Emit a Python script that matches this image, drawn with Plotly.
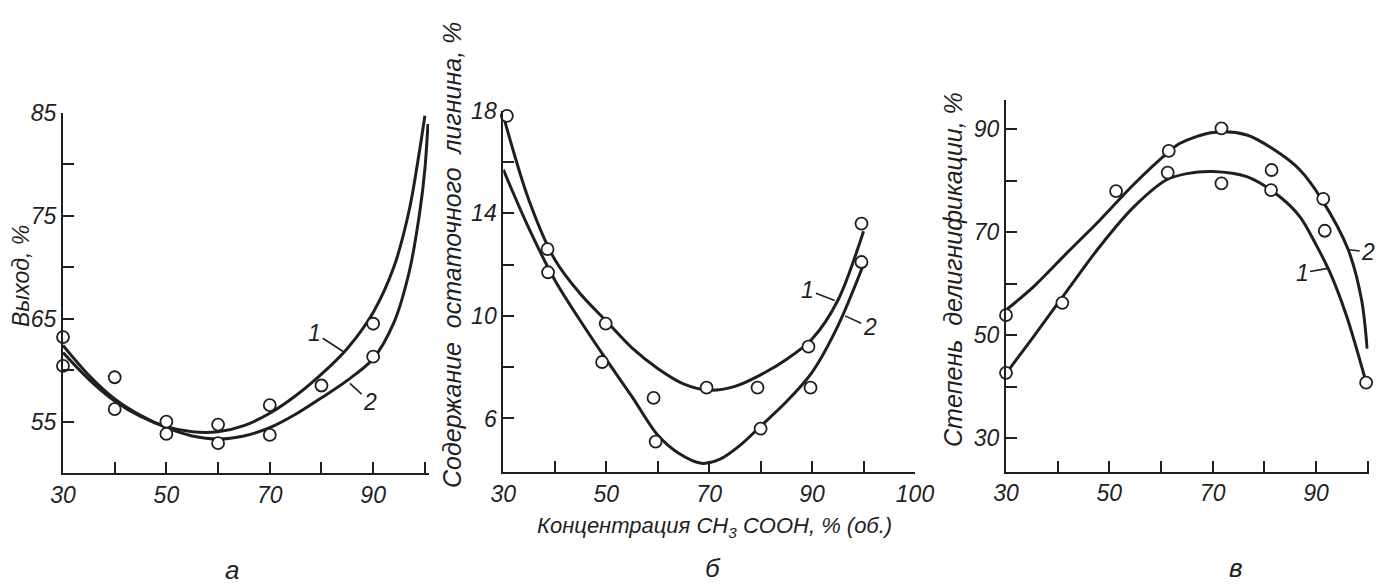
import plotly.graph_objects as go

W, H = 1387, 588

# ---------------- data ----------------
# Panel а : Выход, %
a_c1_x = [30, 35, 40, 45, 50, 55, 60, 65, 70, 75, 80, 85, 90, 94, 97, 99, 100]
a_c1_y = [61.7, 59.1, 57.0, 55.5, 54.5, 54.0, 54.0, 54.6, 55.8, 57.5, 59.6, 62.1, 65.6, 70.0, 75.6, 81.4, 84.7]
a_c2_x = [30, 35, 40, 45, 50, 55, 60, 65, 70, 75, 80, 85, 90, 94, 97, 99, 100, 100.6]
a_c2_y = [62.4, 59.5, 57.2, 55.6, 54.4, 53.6, 53.3, 53.6, 54.4, 55.7, 57.3, 59.0, 61.1, 64.6, 69.6, 75.3, 79.5, 83.9]
a_p1_x = [30, 40, 50, 60, 70, 80, 90, 100.6]
a_p1_y = [63.2, 59.3, 55.0, 54.7, 56.6, 58.5, 64.5, 85.2]
a_p2_x = [30, 40, 50, 60, 70, 90, 101.5]
a_p2_y = [60.4, 56.2, 53.8, 52.9, 53.7, 61.3, 83.9]

# Panel б : Содержание остаточного лигнина, %
b_c1_x = [30, 35, 40, 45, 50, 55, 60, 65, 70, 75, 80, 85, 90, 95, 100]
b_c1_y = [17.8, 14.5, 12.2, 10.85, 9.8, 8.75, 7.95, 7.35, 7.1, 7.25, 7.7, 8.3, 9.1, 10.6, 13.3]
b_c2_x = [30, 35, 40, 45, 50, 55, 60, 64, 68.5, 72, 76, 80, 85, 90, 95, 100]
b_c2_y = [15.7, 13.4, 11.4, 9.8, 8.3, 6.85, 5.35, 4.65, 4.25, 4.4, 4.95, 5.7, 6.65, 7.8, 9.6, 12.0]
b_p1_x = [30.7, 38.6, 49.9, 59.2, 69.5, 79.4, 89.3, 99.6]
b_p1_y = [17.8, 12.6, 9.7, 6.8, 7.2, 7.2, 8.8, 13.6]
b_p2_x = [29.8, 38.7, 49.2, 59.6, 80.0, 89.7, 99.6]
b_p2_y = [15.8, 11.7, 8.2, 5.1, 5.6, 7.2, 12.1]

# Panel в : Степень делигнификации, %
c_c1_x = [30, 35.3, 41.7, 48.2, 54.6, 61.1, 65, 70, 76.6, 83, 86.9, 90, 92.7, 95.9, 99.5]
c_c1_y = [42.6, 49.7, 58.5, 67.3, 74.8, 80.2, 81.4, 81.8, 80.8, 76.9, 73.0, 67.6, 62.2, 53.8, 41.6]
c_c2_x = [30, 35.3, 41.7, 48.2, 54.6, 61.1, 63.7, 70.1, 76.6, 83, 86.9, 91.1, 96.2, 98.8, 99.9]
c_c2_y = [54.9, 59.4, 65.9, 72.4, 79.2, 85.3, 87.3, 89.4, 88.9, 85.3, 82.1, 76.4, 66.7, 57.0, 47.4]
c_p1_x = [30, 40.9, 61.3, 71.7, 81.3, 91.7, 99.7]
c_p1_y = [42.7, 56.3, 81.6, 79.5, 78.2, 70.3, 40.8]
c_p2_x = [30, 51.3, 61.5, 71.7, 81.4, 91.4, 100.8]
c_p2_y = [53.9, 78.0, 85.8, 90.2, 82.1, 76.5, 48.8]

# ticks (labelled major ticks + unlabelled minor ticks)
a_xticks, a_xlabels, a_xminor = [30, 50, 70, 90], ["30", "50", "70", "90"], [40, 60, 80, 100]
a_yticks, a_ylabels, a_yminor = [55, 65, 75, 85], ["55", "65", "75", "85"], [60, 70, 80]
b_xticks, b_xlabels, b_xminor = [30, 50, 70, 90, 110], ["30", "50", "70", "90", "100"], [40, 60, 80, 100]
b_yticks, b_ylabels, b_yminor = [6, 10, 14, 18], ["6", "10", "14", "18"], [8, 12, 16]
c_xticks, c_xlabels, c_xminor = [30, 50, 70, 90], ["30", "50", "70", "90"], [40, 60, 80, 100]
c_yticks, c_ylabels, c_yminor = [30, 50, 70, 90], ["30", "50", "70", "90"], [40, 60, 80]

# curve labels: (axis, text, text_x, text_y, curve_x, curve_y)
curve_labels = [
    ("1", "1", 78.7, 63.6, 84.2, 61.8),
    ("1", "2", 89.4, 56.9, 85.5, 58.7),
    ("2", "1", 89.2, 11.0, 94.4, 10.6),
    ("2", "2", 101.2, 9.56, 96.4, 10.0),
    ("3", "2", 100.1, 66.2, 96.4, 66.6),
    ("3", "1", 87.3, 62.1, 92.3, 63.0),
]

# ---------------- style ----------------
INK = "#1f1f1f"
FONT = "Liberation Sans"


def px_x(p):
    return p / W


def px_y(p):
    return 1 - p / H


fig = go.Figure()

panels = [
    ("x", "y", a_c1_x, a_c1_y, a_c2_x, a_c2_y, a_p1_x, a_p1_y, a_p2_x, a_p2_y),
    ("x2", "y2", b_c1_x, b_c1_y, b_c2_x, b_c2_y, b_p1_x, b_p1_y, b_p2_x, b_p2_y),
    ("x3", "y3", c_c1_x, c_c1_y, c_c2_x, c_c2_y, c_p1_x, c_p1_y, c_p2_x, c_p2_y),
]
for xa, ya, c1x, c1y, c2x, c2y, p1x, p1y, p2x, p2y in panels:
    for cx, cy in ((c1x, c1y), (c2x, c2y)):
        fig.add_trace(go.Scatter(x=cx, y=cy, mode="lines", xaxis=xa, yaxis=ya,
                                 line=dict(color=INK, width=3, shape="spline", smoothing=0.9),
                                 hoverinfo="skip"))
    for px_, py_ in ((p1x, p1y), (p2x, p2y)):
        fig.add_trace(go.Scatter(x=px_, y=py_, mode="markers", xaxis=xa, yaxis=ya,
                                 cliponaxis=False,
                                 marker=dict(symbol="circle", size=12, color="white",
                                             line=dict(color=INK, width=1.8))))

tickfont = dict(family=FONT, size=23, color=INK, style="italic")


def axis(minor_vals, **kw):
    d = dict(showline=True, linecolor=INK, linewidth=2, ticks="inside",
             ticklen=11, tickwidth=1.6, tickcolor=INK, showgrid=False,
             zeroline=False, tickfont=tickfont, tickmode="array", automargin=False,
             minor=dict(tickmode="array", tickvals=minor_vals, ticks="inside",
                        ticklen=11, tickwidth=1.6, tickcolor=INK, showgrid=False))
    d.update(kw)
    return d


fig.update_layout(
    xaxis=axis(a_xminor, domain=[px_x(63), px_x(429)], range=[30, 100.8], anchor="y",
               tickvals=a_xticks, ticktext=a_xlabels),
    yaxis=axis(a_yminor, domain=[px_y(473), px_y(112.7)], range=[50, 85], anchor="x",
               tickvals=a_yticks, ticktext=a_ylabels),
    xaxis2=axis(b_xminor, domain=[px_x(503.3), px_x(915)], range=[30, 110], anchor="y2",
                tickvals=b_xticks, ticktext=b_xlabels),
    yaxis2=axis(b_yminor, domain=[px_y(472.3), px_y(110.7)], range=[3.9, 18], anchor="x2",
                tickvals=b_yticks, ticktext=b_ylabels),
    xaxis3=axis(c_xminor, domain=[px_x(1006), px_x(1368.7)], range=[30, 100.2], anchor="y3",
                tickvals=c_xticks, ticktext=c_xlabels),
    yaxis3=axis(c_yminor, domain=[px_y(471.7), px_y(100)], range=[23.5, 95.7], anchor="x3",
                tickvals=c_yticks, ticktext=c_ylabels),
)

annotations = []
for ax_id, txt, tx, ty, cx, cy in curve_labels:
    xr = "x" if ax_id == "1" else "x" + ax_id
    yr = "y" if ax_id == "1" else "y" + ax_id
    annotations.append(dict(x=cx, y=cy, xref=xr, yref=yr, ax=tx, ay=ty,
                            axref=xr, ayref=yr, text=txt, showarrow=True,
                            arrowhead=0, arrowwidth=1.6, arrowcolor=INK,
                            font=dict(family=FONT, size=23, color=INK, style="italic")))

titlefont = dict(family=FONT, size=23, color=INK, style="italic")
bigtitle = dict(family=FONT, size=25, color=INK, style="italic")
letterfont = dict(family=FONT, size=26, color=INK, style="italic")
annotations += [
    dict(text="Выход, %", x=px_x(21), y=px_y(276), xref="paper", yref="paper",
         textangle=-90, showarrow=False, font=titlefont, xanchor="center", yanchor="middle"),
    dict(text="Содержание&nbsp; остаточного&nbsp; лигнина, %", x=px_x(452), y=px_y(255),
         xref="paper", yref="paper", textangle=-90, showarrow=False, font=bigtitle,
         xanchor="center", yanchor="middle"),
    dict(text="Степень&nbsp; делигнификации, %", x=px_x(953), y=px_y(270),
         xref="paper", yref="paper", textangle=-90, showarrow=False, font=bigtitle,
         xanchor="center", yanchor="middle"),
    dict(text="Концентрация CH<sub>3</sub> COOH, % (об.)", x=px_x(714), y=px_y(527),
         xref="paper", yref="paper", showarrow=False,
         font=dict(family=FONT, size=22, color=INK, style="italic"),
         xanchor="center", yanchor="middle"),
    dict(text="а", x=px_x(232), y=px_y(570), xref="paper", yref="paper", showarrow=False,
         font=letterfont, xanchor="center", yanchor="middle"),
    dict(text="б", x=px_x(713), y=px_y(568), xref="paper", yref="paper", showarrow=False,
         font=letterfont, xanchor="center", yanchor="middle"),
    dict(text="в", x=px_x(1236), y=px_y(568), xref="paper", yref="paper", showarrow=False,
         font=letterfont, xanchor="center", yanchor="middle"),
]

fig.update_layout(width=W, height=H, margin=dict(l=0, r=0, t=0, b=0),
                  paper_bgcolor="white", plot_bgcolor="white", showlegend=False,
                  annotations=annotations)

fig.write_html("out.html", config={"displayModeBar": False},
               post_script="document.body.style.margin='0';")
